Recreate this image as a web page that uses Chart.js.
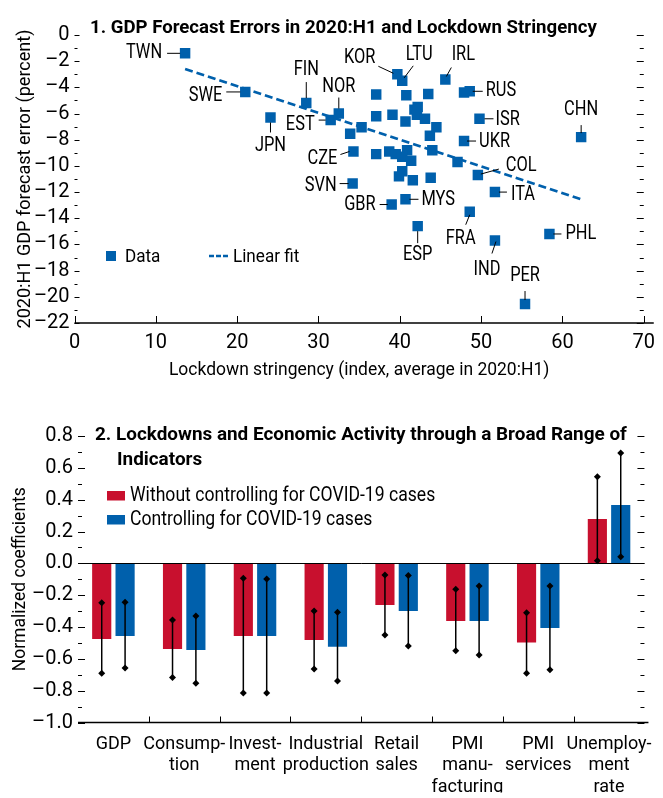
<!DOCTYPE html>
<html>
<head>
<meta charset="utf-8">
<script src="https://cdn.jsdelivr.net/npm/chart.js@4.4.0/dist/chart.umd.min.js"></script>
<style>
  html, body { margin: 0; padding: 0; background: #fff; }
  #wrap { position: relative; width: 663px; height: 798px; }
  canvas { position: absolute; left: 0; }
</style>
</head>
<body>
<div id="wrap">
  <canvas id="top" width="663" height="400" style="top:0"></canvas>
  <canvas id="bottom" width="663" height="398" style="top:400px"></canvas>
</div>
<script>
// ---- panel 1 data ----
const stringency = [13.6, 21.0, 28.5, 24.1, 32.5, 31.5, 33.9, 34.3, 39.7, 40.3, 45.6, 48.6, 47.9,
  37.1, 40.8, 43.5, 37.1, 39.1, 40.7, 41.8, 42.2, 42.1, 43.1, 44.5, 43.7, 35.3, 49.8, 47.9, 62.3,
  37.1, 38.7, 39.5, 40.9, 44.0, 40.3, 41.4, 47.1, 40.3, 39.9, 41.6, 43.8, 49.6, 34.2, 39.0, 40.7,
  42.2, 48.6, 51.7, 51.7, 58.4, 55.4];
const forecastError = [-1.4, -4.35, -5.2, -6.3, -6.0, -6.5, -7.55, -8.9, -3.0, -3.5, -3.4, -4.3, -4.4,
  -4.55, -4.6, -4.5, -6.2, -6.1, -6.6, -5.7, -5.5, -6.1, -6.4, -7.05, -7.7, -7.05, -6.4, -8.1, -7.8,
  -9.1, -8.9, -9.1, -8.8, -8.8, -9.3, -9.6, -9.7, -10.4, -10.8, -11.1, -10.9, -10.7, -11.35, -12.95, -12.55,
  -14.6, -13.5, -12.0, -15.7, -15.2, -20.55];
const countryCodes = ['TWN', 'SWE', 'FIN', 'JPN', 'NOR', 'EST', '', 'CZE', 'KOR', 'LTU', 'IRL', 'RUS', '',
  '', '', '', '', '', '', '', '', '', '', '', '', '', 'ISR', 'UKR', 'CHN',
  '', '', '', '', '', '', '', '', '', '', '', '', 'COL', 'SVN', 'GBR', 'MYS',
  'ESP', 'FRA', 'ITA', 'IND', 'PHL', 'PER'];
const fitX = [13.6, 62.3];
const fitY = [-2.6, -12.55];
const xTicks1 = [0, 10, 20, 30, 40, 50, 60, 70];

// ---- panel 2 data ----
const indicators = ['GDP', ['Consump-', 'tion'], ['Invest-', 'ment'], ['Industrial', 'production'],
  ['Retail', 'sales'], ['PMI', 'manu-', 'facturing'], ['PMI', 'services'], ['Unemploy-', 'ment', 'rate']];
const withoutCases = [-0.476, -0.538, -0.457, -0.482, -0.262, -0.362, -0.498, 0.278];
const withCases = [-0.457, -0.545, -0.457, -0.524, -0.300, -0.362, -0.406, 0.366];
const withoutLow = [-0.690, -0.718, -0.814, -0.664, -0.450, -0.549, -0.690, 0.016];
const withoutHigh = [-0.247, -0.356, -0.094, -0.300, -0.073, -0.163, -0.310, 0.544];
const withLow = [-0.658, -0.754, -0.814, -0.739, -0.520, -0.576, -0.668, 0.042];
const withHigh = [-0.245, -0.331, -0.098, -0.308, -0.076, -0.143, -0.143, 0.693];

const BLUE = '#0060AC';
const RED = '#C8102E';
const FONT = "Roboto, 'Liberation Sans', sans-serif";

// label placement around each labelled point (pixel offsets)
const labelPlace = {
  TWN: { dx: -23, dy: 0, align: 'right', line: [-18, 0, -5, 0] },
  SWE: { dx: -23, dy: 4, align: 'right', line: [-19, 0, -5, 0] },
  FIN: { dx: 0, dy: -33, align: 'center', line: [0, -21, 0, -5] },
  JPN: { dx: 0, dy: 29, align: 'center', line: [0, 5, 0, 15] },
  NOR: { dx: 0, dy: -27, align: 'center', line: [0, -16, 0, -5] },
  EST: { dx: -16, dy: 5, align: 'right', line: [-12, 0, -5, 0] },
  CZE: { dx: -16, dy: 7, align: 'right', line: [-13, 3, -4, 0] },
  KOR: { dx: -22, dy: -16, align: 'right', line: [-19, -8, -4, -1] },
  LTU: { dx: 17, dy: -26, align: 'center', line: [11, -15, 2, -3] },
  IRL: { dx: 18, dy: -25, align: 'center', line: [6, -12, 1, -3] },
  RUS: { dx: 16, dy: 0, align: 'left', line: [3, 0, 13, 0] },
  ISR: { dx: 16, dy: 1, align: 'left', line: [5, 0, 14, 0] },
  UKR: { dx: 15, dy: 1, align: 'left', line: [3, 0, 12, 0] },
  CHN: { dx: 0, dy: -27, align: 'center', line: [0, -12, 0, -4] },
  COL: { dx: 28, dy: -9, align: 'left', line: [3, -1, 21, -6] },
  SVN: { dx: -16, dy: 2, align: 'right', line: [-13, 0, -4, 0] },
  GBR: { dx: -16, dy: 0, align: 'right', line: [-12, 0, -4, 0] },
  MYS: { dx: 16, dy: 1, align: 'left', line: [4, 0, 13, 0] },
  ESP: { dx: 0, dy: 29, align: 'center', line: [0, 5, 0, 17] },
  FRA: { dx: -9, dy: 27, align: 'center', line: [0, 3, -4, 13] },
  ITA: { dx: 16, dy: 3, align: 'left', line: [4, 0, 12, 0] },
  IND: { dx: -8, dy: 29, align: 'center', line: [1, 1, -3, 13] },
  PHL: { dx: 16, dy: 0, align: 'left', line: [4, 0, 12, 0] },
  PER: { dx: 0, dy: -28, align: 'center', line: [0, -13, 0, -4] }
};

function dash(v) { return v < 0 ? '\u2013' + Math.abs(v) : String(v); }

// draw text squeezed horizontally (the original uses a condensed face)
function narrowText(ctx, text, x, y, align, font, sx) {
  ctx.save();
  ctx.font = font;
  ctx.textAlign = align;
  ctx.textBaseline = 'middle';
  ctx.translate(x, y);
  ctx.scale(sx, 1);
  ctx.fillText(text, 0, 0);
  ctx.restore();
}

const topDecor = {
  id: 'topDecor',
  afterDraw(chart) {
    const ctx = chart.ctx, a = chart.chartArea;
    const xs = chart.scales.x, ys = chart.scales.y;
    const lab = '19px ' + FONT;
    ctx.save();
    ctx.strokeStyle = '#000';
    ctx.fillStyle = '#000';
    ctx.lineWidth = 1;
    // axis ticks left/right
    for (let v = 0; v >= -22; v--) {
      const y = Math.round(ys.getPixelForValue(v)) + 0.5;
      const major = v % 2 === 0;
      ctx.beginPath();
      ctx.moveTo(a.left, y); ctx.lineTo(a.left + (major ? 5 : 3), y);
      ctx.moveTo(a.right, y); ctx.lineTo(a.right - (major ? 7 : 4), y);
      ctx.stroke();
    }
    // bottom axis
    ctx.lineWidth = 1.5;
    ctx.beginPath();
    ctx.moveTo(a.left, a.bottom); ctx.lineTo(a.right + 10, a.bottom);
    ctx.stroke();
    ctx.lineWidth = 1;
    xTicks1.forEach(v => {
      const x = Math.round(xs.getPixelForValue(v)) + 0.5;
      ctx.beginPath(); ctx.moveTo(x, a.bottom); ctx.lineTo(x, a.bottom - 7); ctx.stroke();
    });
    // country labels
    countryCodes.forEach((c, i) => {
      if (!c) return;
      const p = labelPlace[c];
      const px = xs.getPixelForValue(stringency[i]);
      const py = ys.getPixelForValue(forecastError[i]);
      ctx.beginPath();
      ctx.moveTo(px + p.line[0], py + p.line[1]);
      ctx.lineTo(px + p.line[2], py + p.line[3]);
      ctx.stroke();
      narrowText(ctx, c, px + p.dx, py + p.dy, p.align, '20px ' + FONT, 0.82);
    });
    // title
    narrowText(ctx, '1. GDP Forecast Errors in 2020:H1 and Lockdown Stringency', 90, 28, 'left', 'bold 19px ' + FONT, 0.98);
    // axis titles
    narrowText(ctx, 'Lockdown stringency (index, average in 2020:H1)', (a.left + a.right) / 2, 370, 'center', lab, 0.92);
    ctx.save();
    ctx.translate(25, (a.top + a.bottom) / 2);
    ctx.rotate(-Math.PI / 2);
    narrowText(ctx, '2020:H1 GDP forecast error (percent)', 0, 0, 'center', lab, 0.95);
    ctx.restore();
    // legend
    ctx.fillStyle = BLUE;
    ctx.fillRect(106, 251, 10, 10);
    ctx.strokeStyle = BLUE;
    ctx.lineWidth = 2.5;
    ctx.setLineDash([5, 2]);
    ctx.beginPath(); ctx.moveTo(209, 256); ctx.lineTo(228, 256); ctx.stroke();
    ctx.setLineDash([]);
    ctx.fillStyle = '#000';
    narrowText(ctx, 'Data', 125, 257, 'left', lab, 0.9);
    narrowText(ctx, 'Linear fit', 233, 257, 'left', lab, 0.9);
    ctx.restore();
  }
};

new Chart(document.getElementById('top'), {
  type: 'scatter',
  data: {
    datasets: [
      {
        label: 'Data',
        data: stringency.map((x, i) => ({ x: x, y: forecastError[i] })),
        pointStyle: 'rect',
        pointRadius: 7.4,
        backgroundColor: BLUE,
        borderWidth: 0,
        order: 1
      },
      {
        label: 'Linear fit',
        type: 'line',
        data: fitX.map((x, i) => ({ x: x, y: fitY[i] })),
        borderColor: BLUE,
        borderWidth: 2.8,
        borderDash: [8, 4],
        pointRadius: 0,
        fill: false,
        order: 0
      }
    ]
  },
  options: {
    responsive: false,
    animation: false,
    devicePixelRatio: 1,
    layout: { padding: { left: 4, right: 11.3, top: 35, bottom: 7 } },
    plugins: { legend: { display: false }, tooltip: { enabled: false } },
    scales: {
      x: {
        type: 'linear', min: 0, max: 70,
        afterFit: s => { s.height = 70; },
        grid: { display: false, drawTicks: false },
        border: { display: false },
        ticks: { stepSize: 10, padding: 8, autoSkip: false, color: '#000', font: { family: FONT, size: 20 } }
      },
      y: {
        min: -22, max: 0,
        afterFit: s => { s.width = 70.5; },
        grid: { display: false, drawTicks: false },
        border: { display: false },
        ticks: { stepSize: 2, padding: 5, autoSkip: false, color: '#000', font: { family: FONT, size: 20 }, callback: v => dash(v) }
      }
    }
  },
  plugins: [topDecor]
});

const bottomDecor = {
  id: 'bottomDecor',
  afterDatasetsDraw(chart) {
    const ctx = chart.ctx, ys = chart.scales.y;
    const lows = [withoutLow, withLow], highs = [withoutHigh, withHigh];
    ctx.save();
    ctx.strokeStyle = '#000';
    ctx.fillStyle = '#000';
    ctx.lineWidth = 1.5;
    [0, 1].forEach(d => {
      chart.getDatasetMeta(d).data.forEach((bar, j) => {
        const x = bar.x;
        const y1 = ys.getPixelForValue(lows[d][j]);
        const y2 = ys.getPixelForValue(highs[d][j]);
        ctx.beginPath(); ctx.moveTo(x, y1); ctx.lineTo(x, y2); ctx.stroke();
        [y1, y2].forEach(y => {
          ctx.beginPath();
          ctx.moveTo(x, y - 3.5); ctx.lineTo(x + 3.5, y); ctx.lineTo(x, y + 3.5); ctx.lineTo(x - 3.5, y);
          ctx.closePath(); ctx.fill();
        });
      });
    });
    ctx.restore();
  },
  afterDraw(chart) {
    const ctx = chart.ctx, a = chart.chartArea;
    const xs = chart.scales.x, ys = chart.scales.y;
    const lab = '19px ' + FONT;
    ctx.save();
    ctx.strokeStyle = '#000';
    ctx.fillStyle = '#000';
    ctx.lineWidth = 1;
    for (let k = 8; k >= -10; k--) {
      const y = Math.round(ys.getPixelForValue(k / 10)) + 0.5;
      const major = k % 2 === 0;
      ctx.beginPath();
      ctx.moveTo(a.left, y); ctx.lineTo(a.left + (major ? 7 : 4), y);
      ctx.moveTo(a.right, y); ctx.lineTo(a.right - (major ? 7 : 4), y);
      ctx.stroke();
    }
    // zero line
    const y0 = Math.round(ys.getPixelForValue(0)) + 0.5;
    ctx.beginPath(); ctx.moveTo(a.left, y0); ctx.lineTo(a.right, y0); ctx.stroke();
    // bottom axis + category separators
    ctx.lineWidth = 1.5;
    ctx.beginPath(); ctx.moveTo(a.left, a.bottom); ctx.lineTo(a.right + 4, a.bottom); ctx.stroke();
    ctx.lineWidth = 1;
    for (let i = 1; i < indicators.length; i++) {
      const x = Math.round((xs.getPixelForValue(i - 1) + xs.getPixelForValue(i)) / 2) + 0.5;
      ctx.beginPath(); ctx.moveTo(x, a.bottom); ctx.lineTo(x, a.bottom - 6); ctx.stroke();
    }
    // title
    const bold = 'bold 19px ' + FONT;
    narrowText(ctx, '2. Lockdowns and Economic Activity through a Broad Range of', 95, 35, 'left', bold, 0.995);
    narrowText(ctx, 'Indicators', 117, 60, 'left', bold, 0.995);
    // legend
    ctx.fillStyle = RED;
    ctx.fillRect(107, 91, 18, 9.5);
    ctx.fillStyle = BLUE;
    ctx.fillRect(107, 115, 18, 9.5);
    ctx.fillStyle = '#000';
    narrowText(ctx, 'Without controlling for COVID-19 cases', 130, 96, 'left', '20px ' + FONT, 0.88);
    narrowText(ctx, 'Controlling for COVID-19 cases', 130, 120, 'left', '20px ' + FONT, 0.88);
    // y title
    ctx.save();
    ctx.translate(20, (a.top + a.bottom) / 2);
    ctx.rotate(-Math.PI / 2);
    narrowText(ctx, 'Normalized coefficients', 0, 0, 'center', lab, 0.92);
    ctx.restore();
    ctx.restore();
  }
};

new Chart(document.getElementById('bottom'), {
  type: 'bar',
  data: {
    labels: indicators,
    datasets: [
      { label: 'Without controlling for COVID-19 cases', data: withoutCases, backgroundColor: RED },
      { label: 'Controlling for COVID-19 cases', data: withCases, backgroundColor: BLUE }
    ]
  },
  options: {
    responsive: false,
    animation: false,
    devicePixelRatio: 1,
    categoryPercentage: 0.66,
    barPercentage: 0.82,
    layout: { padding: { left: 4, right: 7, top: 36, bottom: 5.5 } },
    plugins: { legend: { display: false }, tooltip: { enabled: false } },
    scales: {
      x: {
        afterFit: s => { s.height = 70; },
        grid: { display: false, drawTicks: false },
        border: { display: false },
        ticks: { padding: 11, color: '#000', maxRotation: 0, autoSkip: false, font: { family: FONT, size: 18 } }
      },
      y: {
        min: -1, max: 0.8,
        afterFit: s => { s.width = 74; },
        grid: { display: false, drawTicks: false },
        border: { display: false },
        ticks: {
          stepSize: 0.2, padding: 5, autoSkip: false, color: '#000', font: { family: FONT, size: 20 },
          callback: v => Math.abs(v) < 1e-9 ? '0.0' : (v < 0 ? '\u2013' : '') + Math.abs(v).toFixed(1)
        }
      }
    }
  },
  plugins: [bottomDecor]
});
</script>
</body>
</html>
